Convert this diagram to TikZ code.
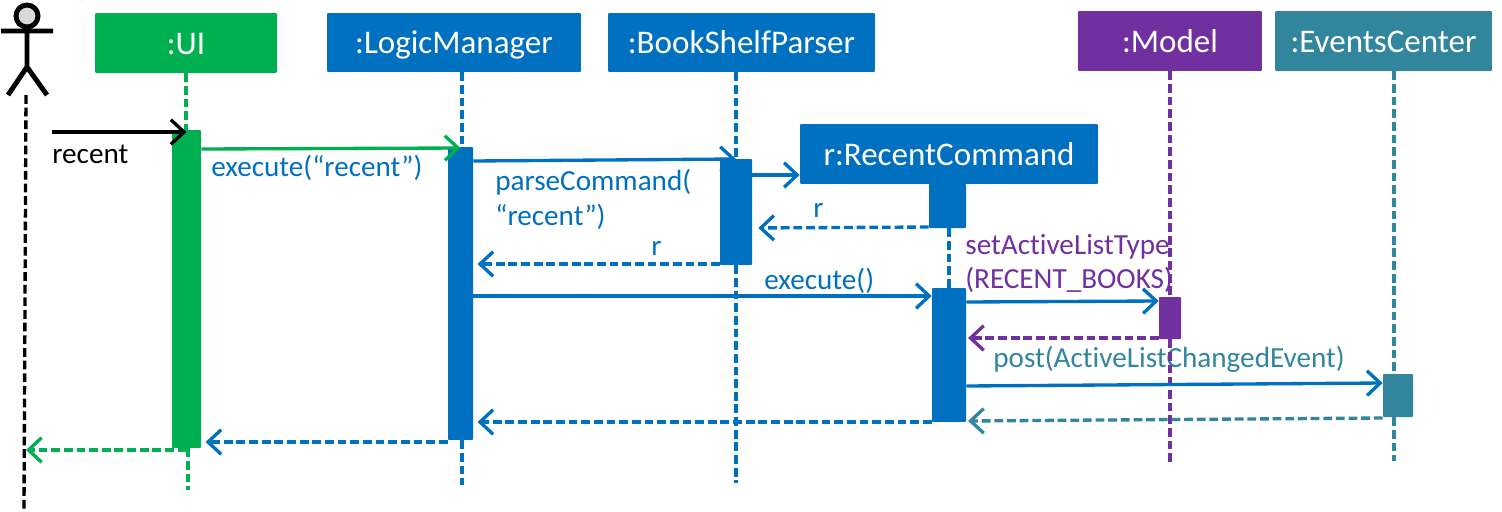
\documentclass[tikz,border=0pt]{standalone}
\usepackage{fontspec}
\setmainfont[Ligatures=NoCommon]{Carlito}
\usetikzlibrary{arrows.meta}

\definecolor{uigreen}{HTML}{00B050}
\definecolor{logicblue}{HTML}{0070C0}
\definecolor{modelpurple}{HTML}{7030A0}
\definecolor{eventsteal}{HTML}{31859C}
\definecolor{headgray}{HTML}{D9D9D9}

\tikzset{
  classbox/.style={fill=#1, text=white, rounded corners=0.6pt, inner sep=0pt, text height=0.52cm, text depth=0.08cm, font=\fontsize{18.8}{22}\selectfont},
  activebar/.style={fill=#1, rounded corners=0.5pt, inner sep=0pt},
  lifeline/.style={draw=#1, line width=1.9pt, dash pattern=on 5pt off 2.2pt},
  callarrow/.style={draw=#1, line width=1.9pt, -{Straight Barb[length=7.5pt,width=14pt,line width=1.9pt]}},
  returnarrow/.style={callarrow=#1, dash pattern=on 5pt off 2.2pt},
  msglabel/.style={text=#1, anchor=west, inner sep=0pt, font=\fontsize{16.6}{20}\selectfont}
}

\begin{document}
\begin{tikzpicture}[x=0.02cm,y=-0.02cm]
        \useasboundingbox (0,0) rectangle (1502,511);

        % Step 1: class boxes
        \node[classbox=uigreen, minimum width=3.64cm, minimum height=1.2cm] (boxUI) at (186,43) {:UI};
        \node[classbox=logicblue, minimum width=5.08cm, minimum height=1.18cm] (boxLogic) at (454,42.5) {:LogicManager};
        \node[classbox=logicblue, minimum width=5.34cm, minimum height=1.18cm] (boxParser) at (741.5,42.5) {:BookShelfParser};
        \node[classbox=logicblue, minimum width=5.96cm, minimum height=1.2cm] (boxRecent) at (949,154) {r:RecentCommand};
        \node[classbox=modelpurple, minimum width=3.68cm, minimum height=1.2cm] (boxModel) at (1170,41) {:Model};
        \node[classbox=eventsteal, minimum width=4.34cm, minimum height=1.2cm] (boxEvents) at (1383.5,41) {:EventsCenter};

        % Step 2: activation bars
        \node[activebar=uigreen, minimum width=0.58cm, minimum height=6.36cm] (barUI) at (186.5,289) {};
        \node[activebar=logicblue, minimum width=0.5cm, minimum height=5.86cm] (barLogic) at (460.5,293.5) {};
        \node[activebar=logicblue, minimum width=0.64cm, minimum height=2.12cm] (barParser) at (736,212) {};
        \node[activebar=logicblue, minimum width=0.74cm, minimum height=0.88cm] (barRecentTop) at (947.5,206) {};
        \node[activebar=logicblue, minimum width=0.68cm, minimum height=2.68cm] (barRecent) at (949,355) {};
        \node[activebar=modelpurple, minimum width=0.44cm, minimum height=0.84cm] (barModel) at (1170,318) {};
        \node[activebar=eventsteal, minimum width=0.6cm, minimum height=0.86cm] (barEvents) at (1398,395.5) {};

        % Step 3: message labels
        \node[msglabel=black] (lblRecent) at (52,154) {recent};
        \node[msglabel=logicblue] (lblExecuteUI) at (211,168) {execute(“recent”)};
        \node[msglabel=logicblue] (lblParseA) at (495,182) {parseCommand(};
        \node[msglabel=logicblue] (lblParseB) at (495,217) {“recent”)};
        \node[msglabel=logicblue] (lblRetA) at (813,210) {r};
        \node[msglabel=logicblue] (lblRetB) at (651,248) {r};
        \node[msglabel=logicblue] (lblExecute) at (764,281) {execute()};
        \node[msglabel=modelpurple] (lblSetA) at (965,247) {setActiveListType};
        \node[msglabel=modelpurple] (lblSetB) at (965,280) {(RECENT\_BOOKS)};
        \node[msglabel=eventsteal] (lblPost) at (993,359) {post(ActiveListChangedEvent)};

        % Step 4: free ends of the lifelines and of the actor messages
        \coordinate (endActorTop) at (26,95);
        \coordinate (endActor) at (24,509);
        \coordinate (endUI) at (188,490);
        \coordinate (endLogic) at (462,485);
        \coordinate (endParser) at (736,483);
        \coordinate (endModel) at (1170,462);
        \coordinate (endEvents) at (1394,461);
        \coordinate (startRecent) at (52,132);

        % Step 5: lifelines
        \draw[lifeline=black] (endActorTop) -- (endActor);
        \draw[lifeline=uigreen] (boxUI.south) -- (barUI.north -| boxUI.south);
        \draw[lifeline=uigreen] (endUI |- barUI.south) -- (endUI);
        \draw[lifeline=logicblue] (endLogic |- boxLogic.south) -- (endLogic |- barLogic.north);
        \draw[lifeline=logicblue] (endLogic |- barLogic.south) -- (endLogic);
        \draw[lifeline=logicblue] (barParser.center |- boxParser.south) -- (barParser.north);
        \draw[lifeline=logicblue] (barParser.south) -- (endParser);
        \draw[lifeline=logicblue] (barRecent.center |- barRecentTop.south) -- (barRecent.north);
        \draw[lifeline=modelpurple] (endModel |- boxModel.south) -- (endModel |- barModel.north);
        \draw[lifeline=modelpurple] (endModel |- barModel.south) -- (endModel);
        \draw[lifeline=eventsteal] (endEvents |- boxEvents.south) -- (endEvents |- barEvents.north);
        \draw[lifeline=eventsteal] (endEvents |- barEvents.south) -- (endEvents);

        % Step 6: calls
        \draw[callarrow=black] (startRecent) -- (barUI.north |- startRecent);
        \draw[callarrow=uigreen] (barUI.east |- 0,149) -- (barLogic.north |- 0,148);
        \draw[callarrow=logicblue] (barLogic.east |- 0,161) -- (barParser.center |- 0,159);
        \draw[callarrow=logicblue] (barParser.east |- boxRecent.west) ++(0,21) -- (boxRecent.south west |- 0,175);
        \draw[callarrow=logicblue] (barLogic.east |- 0,296) -- (931,296 -| barRecent.west);
        \draw[callarrow=logicblue] (967,302 -| barRecent.east) -- (barModel.west |- 0,301);
        \draw[callarrow=logicblue] (barRecent.east |- 0,386) -- (barEvents.west |- 0,383);

        % Step 7: returns
        \draw[returnarrow=logicblue, shorten >=3.4pt] (barRecentTop.west |- 0,227) -- (barParser.east |- 0,228);
        \draw[returnarrow=logicblue, shorten >=2.4pt] (barParser.west |- 0,264) -- (barLogic.east |- 0,264);
        \draw[returnarrow=modelpurple, shorten >=1pt] (barModel.west |- 0,338) -- (barRecent.east |- 0,338);
        \draw[returnarrow=eventsteal, shorten >=1pt] (barEvents.west |- 0,418) -- (barRecent.east |- 0,421);
        \draw[returnarrow=logicblue, shorten >=2.4pt] (barRecent.west |- 0,422) -- (barLogic.east |- 0,422);
        \draw[returnarrow=logicblue, shorten >=2.4pt] (barLogic.west |- 0,442) -- (barUI.east |- 0,442);
        \draw[returnarrow=uigreen] (barUI.center |- 0,450) -- (endActorTop |- 0,450);

        % Step 8: actor
        \node[draw=black, fill=headgray, circle, line width=2.8pt, minimum size=0.44cm, inner sep=0pt] (actorHead) at (27,16) {};
        \coordinate (actorHip) at (27,67);
        \coordinate (armLeft) at (1,31);
        \coordinate (armRight) at (53,31);
        \coordinate (legLeft) at (8,95);
        \coordinate (legRight) at (47,95);
        \draw[line width=2.8pt] (actorHead.south) -- (actorHip) (armLeft) -- (armRight) (legLeft) -- (actorHip) -- (legRight);
\end{tikzpicture}
\end{document}
